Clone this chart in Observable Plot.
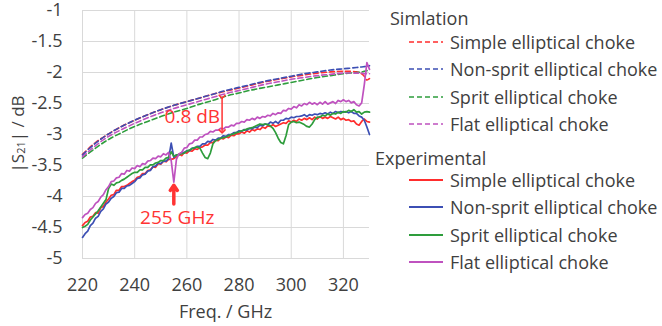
<!DOCTYPE html>
<html><head><meta charset="utf-8">
<script src="https://cdn.jsdelivr.net/npm/d3@7"></script>
<script src="https://cdn.jsdelivr.net/npm/@observablehq/plot@0.6"></script>
<style>
body{margin:0;background:#fff;font-family:"Open Sans",sans-serif;}
#wrap{position:relative;width:662px;height:326px;overflow:hidden;}
.lg{position:absolute;color:#404040;font-size:18px;white-space:nowrap;transform:translateY(-50%);line-height:22px;}
.sw{position:absolute;transform:translateY(-50%);}
</style></head><body><div id="wrap"></div><script>
// Series names and colours (shared by the simulated and measured curves)
const names = ["Simple elliptical choke","Non-sprit elliptical choke","Sprit elliptical choke","Flat elliptical choke"];
const colors = ["#ff2d2d","#3c4fb4","#2e9d3c","#bf52bf"];

// Simulated |S21| (dB)
const simFreq = [220,225,230,235,240,245,250,255,260,265,270,275,280,285,290,295,300,305,310,315,320,325,327,328,329,330];
const simSimple = [-3.32,-3.13,-2.99,-2.87,-2.77,-2.68,-2.60,-2.53,-2.47,-2.41,-2.35,-2.30,-2.25,-2.20,-2.15,-2.11,-2.07,-2.04,-2.01,-1.99,-1.98,-1.99,-2.02,-2.06,-2.12,-2.10];
const simNonSprit = [-3.33,-3.14,-2.99,-2.87,-2.77,-2.68,-2.60,-2.53,-2.47,-2.41,-2.35,-2.29,-2.24,-2.19,-2.14,-2.10,-2.06,-2.02,-1.99,-1.96,-1.94,-1.92,-1.91,-1.905,-1.90,-1.89];
const simSprit = [-3.38,-3.22,-3.08,-2.97,-2.87,-2.79,-2.71,-2.64,-2.58,-2.51,-2.45,-2.38,-2.33,-2.28,-2.24,-2.20,-2.16,-2.12,-2.08,-2.05,-2.02,-2.00,-1.99,-1.98,-1.97,-1.96];
const simFlat = [-3.36,-3.18,-3.03,-2.92,-2.82,-2.73,-2.65,-2.58,-2.52,-2.46,-2.40,-2.34,-2.29,-2.24,-2.19,-2.15,-2.11,-2.08,-2.05,-2.03,-2.01,-2.01,-2.01,-2.02,-2.02,-2.02];

// Measured |S21| (dB), 1 GHz steps from 220 to 330 GHz
const expFreq = d3.range(220, 331);
const expSimple = [
-4.47,-4.42,-4.40,-4.33,-4.32,-4.26,-4.27,-4.18,-4.16,-4.09,
-4.04,-3.98,-3.97,-3.90,-3.90,-3.84,-3.84,-3.82,-3.79,-3.76,
-3.74,-3.69,-3.68,-3.63,-3.63,-3.58,-3.57,-3.52,-3.53,-3.47,
-3.48,-3.43,-3.44,-3.40,-3.40,-3.39,-3.36,-3.32,-3.34,-3.29,
-3.30,-3.26,-3.27,-3.23,-3.24,-3.21,-3.20,-3.17,-3.17,-3.13,
-3.13,-3.09,-3.10,-3.06,-3.07,-3.04,-3.05,-3.01,-3.02,-2.99,
-2.99,-2.96,-2.98,-2.94,-2.96,-2.92,-2.94,-2.91,-2.92,-2.88,
-2.90,-2.86,-2.87,-2.84,-2.87,-2.85,-2.83,-2.81,-2.82,-2.78,
-2.80,-2.77,-2.79,-2.75,-2.77,-2.74,-2.76,-2.73,-2.76,-2.72,
-2.75,-2.71,-2.74,-2.72,-2.74,-2.71,-2.73,-2.75,-2.72,-2.76,
-2.74,-2.77,-2.76,-2.79,-2.78,-2.83,-2.85,-2.79,-2.75,-2.79,
-2.80];
const expNonSprit = [
-4.66,-4.60,-4.56,-4.47,-4.43,-4.35,-4.32,-4.24,-4.20,-4.12,
-4.09,-4.03,-4.00,-3.94,-3.93,-3.87,-3.87,-3.83,-3.82,-3.79,
-3.76,-3.71,-3.70,-3.65,-3.64,-3.59,-3.58,-3.52,-3.51,-3.46,
-3.47,-3.43,-3.43,-3.39,-3.14,-3.37,-3.33,-3.33,-3.29,-3.29,
-3.26,-3.26,-3.22,-3.22,-3.19,-3.19,-3.15,-3.15,-3.11,-3.12,
-3.08,-3.09,-3.06,-3.06,-3.02,-3.03,-3.00,-3.00,-2.97,-2.97,
-2.94,-2.95,-2.92,-2.93,-2.90,-2.91,-2.88,-2.89,-2.85,-2.86,
-2.83,-2.84,-2.80,-2.82,-2.79,-2.82,-2.77,-2.77,-2.74,-2.75,
-2.72,-2.73,-2.71,-2.71,-2.70,-2.68,-2.71,-2.68,-2.69,-2.67,
-2.68,-2.66,-2.67,-2.65,-2.67,-2.64,-2.66,-2.63,-2.65,-2.63,
-2.64,-2.63,-2.65,-2.63,-2.66,-2.66,-2.70,-2.72,-2.77,-2.88,
-3.00];
const expSprit = [
-4.50,-4.48,-4.45,-4.38,-4.33,-4.28,-4.23,-4.17,-4.11,-4.05,
-3.87,-3.80,-3.82,-3.78,-3.77,-3.74,-3.72,-3.69,-3.66,-3.63,
-3.61,-3.61,-3.57,-3.57,-3.53,-3.53,-3.49,-3.49,-3.46,-3.45,
-3.42,-3.42,-3.38,-3.37,-3.28,-3.35,-3.33,-3.32,-3.31,-3.30,
-3.27,-3.25,-3.23,-3.21,-3.20,-3.22,-3.30,-3.37,-3.39,-3.30,
-3.15,-3.10,-3.08,-3.06,-3.05,-3.04,-3.02,-3.00,-2.99,-2.97,
-2.96,-2.94,-2.93,-2.91,-2.90,-2.89,-2.87,-2.85,-2.83,-2.84,
-2.83,-2.84,-2.86,-2.90,-2.97,-3.06,-3.13,-3.15,-3.02,-2.84,
-2.80,-2.79,-2.81,-2.80,-2.82,-2.84,-2.87,-2.88,-2.83,-2.76,
-2.72,-2.72,-2.69,-2.70,-2.67,-2.69,-2.66,-2.67,-2.64,-2.66,
-2.63,-2.64,-2.61,-2.63,-2.60,-2.64,-2.63,-2.67,-2.64,-2.63,
-2.64];
const expFlat = [
-4.34,-4.29,-4.27,-4.21,-4.18,-4.11,-4.08,-4.01,-3.97,-3.89,
-3.84,-3.76,-3.75,-3.70,-3.69,-3.63,-3.64,-3.58,-3.59,-3.54,
-3.55,-3.50,-3.52,-3.47,-3.48,-3.43,-3.42,-3.38,-3.39,-3.35,
-3.36,-3.31,-3.33,-3.29,-3.42,-3.77,-3.40,-3.31,-3.29,-3.22,
-3.21,-3.15,-3.14,-3.09,-3.09,-3.04,-3.04,-3.00,-2.99,-2.95,
-2.96,-2.93,-2.93,-2.90,-2.91,-2.88,-2.88,-2.85,-2.86,-2.82,
-2.82,-2.79,-2.80,-2.76,-2.77,-2.74,-2.76,-2.72,-2.74,-2.71,
-2.72,-2.69,-2.70,-2.66,-2.68,-2.65,-2.66,-2.61,-2.62,-2.58,
-2.59,-2.55,-2.57,-2.52,-2.54,-2.50,-2.52,-2.48,-2.51,-2.49,
-2.52,-2.48,-2.51,-2.47,-2.51,-2.49,-2.47,-2.50,-2.45,-2.47,
-2.44,-2.47,-2.45,-2.49,-2.47,-2.52,-2.54,-2.49,-2.20,-1.84,
-1.95];

// Axis ticks
const xTicks = [220,240,260,280,300,320];
const yTicks = [-5,-4.5,-4,-3.5,-3,-2.5,-2,-1.5,-1];

// Annotations
const gapNote = {f:273.5, top:-2.39, bottom:-2.95, text:"0.8 dB"};
const dipNote = {f:255, from:-4.12, to:-3.82, text:"255 GHz", textY:-4.34};

const simSeries = [simSimple, simNonSprit, simSprit, simFlat];
const expSeries = [expSimple, expNonSprit, expSprit, expFlat];
const simRows = simSeries.flatMap((vals, i) => vals.map((v, j) => ({f: simFreq[j], v, s: names[i]})));
const expRows = expSeries.flatMap((vals, i) => vals.map((v, j) => ({f: expFreq[j], v, s: names[i]})));

const red = "#ff3333";
const W = 662, H = 326, ML = 82, MR = 293, MT = 10, MB = 68;

const chart = Plot.plot({
  width: W, height: H,
  marginLeft: ML, marginRight: MR, marginTop: MT, marginBottom: MB,
  style: {fontFamily: '"Open Sans", sans-serif', fontSize: "18px", color: "#404040", background: "#fff"},
  x: {domain: [220, 330]},
  y: {domain: [-5, -1]},
  color: {domain: names, range: colors},
  marks: [
    Plot.gridX(xTicks, {stroke: "#d9d9d9", strokeOpacity: 1, strokeWidth: 1}),
    Plot.gridY(yTicks, {stroke: "#d9d9d9", strokeOpacity: 1, strokeWidth: 1}),
    Plot.axisX(xTicks, {tickSize: 0, tickPadding: 20, label: null, tickFormat: d => String(d), fontSize: 18}),
    Plot.axisY(yTicks, {tickSize: 0, tickPadding: 20, label: null, tickFormat: d => String(d), fontSize: 18}),
    Plot.line(simRows, {x: "f", y: "v", z: "s", stroke: "s", strokeWidth: 1.6, strokeDasharray: "5,3", curve: "catmull-rom"}),
    Plot.line(expRows, {x: "f", y: "v", z: "s", stroke: "s", strokeWidth: 1.7, strokeLinejoin: "round"}),
    Plot.link([gapNote], {x1: "f", x2: "f", y1: "top", y2: "bottom", stroke: red, strokeWidth: 1.5, markerStart: "arrow", markerEnd: "arrow"}),
    Plot.text([gapNote], {x: "f", y: d => (d.top + d.bottom) / 2 - 0.05, text: "text", textAnchor: "end", dx: -2, fill: red, fontSize: 19}),
    Plot.arrow([dipNote], {x1: "f", x2: "f", y1: "from", y2: "to", stroke: red, strokeWidth: 3.5, headLength: 9, headAngle: 70}),
    Plot.text([dipNote], {x: d => d.f + 1.3, y: "textY", text: "text", fill: red, fontSize: 19})
  ]
});

const wrap = document.getElementById("wrap");
wrap.appendChild(chart);

// Axis titles
const svg = d3.select(chart);
svg.append("text")
  .attr("x", (ML + (W - MR)) / 2).attr("y", 313)
  .attr("text-anchor", "middle").attr("dominant-baseline", "middle")
  .attr("fill", "#404040").attr("font-size", 18)
  .text("Freq. / GHz");
const yt = svg.append("text")
  .attr("transform", "translate(19,134) rotate(-90)")
  .attr("text-anchor", "middle").attr("dominant-baseline", "middle")
  .attr("fill", "#404040").attr("font-size", 17);
yt.append("tspan").text("|S");
yt.append("tspan").attr("font-size", 11).attr("baseline-shift", "-25%").text("21");
yt.append("tspan").text("| / dB");

// Legend
function addGroup(title, titleX, titleY, rowY, dash) {
  const h = document.createElement("div");
  h.className = "lg"; h.style.left = titleX + "px"; h.style.top = titleY + "px";
  h.textContent = title; wrap.appendChild(h);
  names.forEach((n, i) => {
    const y = rowY + i * 27.3;
    const sw = document.createElementNS("http://www.w3.org/2000/svg", "svg");
    sw.setAttribute("width", 34); sw.setAttribute("height", 4);
    sw.setAttribute("class", "sw");
    sw.style.left = "409px"; sw.style.top = y + "px";
    const ln = document.createElementNS("http://www.w3.org/2000/svg", "line");
    ln.setAttribute("x1", 0); ln.setAttribute("x2", 34); ln.setAttribute("y1", 2); ln.setAttribute("y2", 2);
    ln.setAttribute("stroke", colors[i]); ln.setAttribute("stroke-width", dash ? 1.6 : 2);
    if (dash) ln.setAttribute("stroke-dasharray", "5,3");
    sw.appendChild(ln); wrap.appendChild(sw);
    const t = document.createElement("div");
    t.className = "lg"; t.style.left = "450px"; t.style.top = y + "px";
    t.textContent = n; wrap.appendChild(t);
  });
}
addGroup("Simlation", 390, 18, 42, true);
addGroup("Experimental", 375, 158, 180, false);
</script></body></html>
